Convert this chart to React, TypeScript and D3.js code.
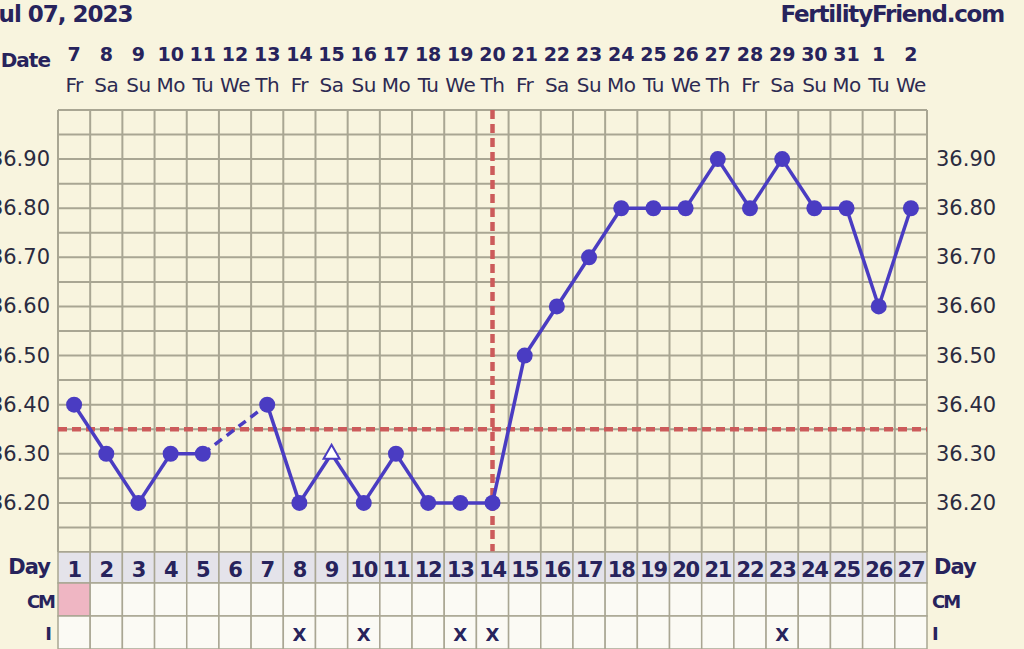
import React from 'react';
import * as d3 from 'd3';

const days = d3.range(1, 28);
const dates = ['7', '8', '9', '10', '11', '12', '13', '14', '15', '16', '17', '18', '19', '20', '21', '22', '23', '24', '25', '26', '27', '28', '29', '30', '31', '1', '2'];
const weekdays = ['Fr', 'Sa', 'Su', 'Mo', 'Tu', 'We', 'Th', 'Fr', 'Sa', 'Su', 'Mo', 'Tu', 'We', 'Th', 'Fr', 'Sa', 'Su', 'Mo', 'Tu', 'We', 'Th', 'Fr', 'Sa', 'Su', 'Mo', 'Tu', 'We'];
// null = no reading that day
const temps: (number | null)[] = [36.4, 36.3, 36.2, 36.3, 36.3, null, 36.4, 36.2, 36.3, 36.2, 36.3, 36.2, 36.2, 36.2, 36.5, 36.6, 36.7, 36.8, 36.8, 36.8, 36.9, 36.8, 36.9, 36.8, 36.8, 36.6, 36.8];
const openDays = [9];
const yTicks = [36.2, 36.3, 36.4, 36.5, 36.6, 36.7, 36.8, 36.9];
const coverline = 36.35;
const ovulationDay = 14;
const cmDays = [1];
const intercourseDays = [8, 10, 13, 14, 23];

const W = 1024;
const H = 649;
const BG = '#f8f4de';
const GRID = '#a9a693';
const LINE = '#4a3cc2';
const RED = '#cc5b5b';
const NAVY = '#27235c';
const FONT = '"DejaVu Sans", Verdana, sans-serif';

export default function App() {
  const x = d3.scaleBand<number>().domain(days).range([58, 927]);
  const y = d3.scaleLinear().domain([36.1, 37.0]).range([552, 110]);
  const cx = (d: number) => (x(d) || 0) + x.bandwidth() / 2;
  const hLines = d3.range(0, 19).map(i => 36.1 + i * 0.05);
  const vLines = d3.range(0, 28).map(i => 58 + i * x.bandwidth());

  const pts = days.map((d, i) => ({ d, v: temps[i] })).filter(p => p.v !== null) as { d: number; v: number }[];
  const segs = d3.pairs(pts).map(([a, b]) => ({ a, b, dashed: b.d - a.d > 1 }));

  const rowDay = [552, 583];
  const rowCM = [583, 616];
  const rowI = [616, 649];

  return (
    <svg width={W} height={H} style={{ position: 'absolute', left: 0, top: 0, background: BG, fontFamily: FONT }}>
      <rect width={W} height={H} fill={BG} />
      {/* header */}
      <text x={-9} y={22} fontSize={23} fontWeight="bold" fill={NAVY} letterSpacing={-1}>Jul 07, 2023</text>
      <text x={1004} y={22} fontSize={23} fontWeight="bold" fill={NAVY} textAnchor="end" letterSpacing={-1.2}>FertilityFriend.com</text>
      <text x={50} y={67} fontSize={20} fontWeight="bold" fill={NAVY} textAnchor="end" letterSpacing={-1}>Date</text>
      {days.map((d, i) => (
        <g key={d}>
          <text x={cx(d)} y={61} fontSize={19} fontWeight="bold" fill={NAVY} textAnchor="middle">{dates[i]}</text>
          <text x={cx(d)} y={92} fontSize={20} fill="#2d2a52" textAnchor="middle" letterSpacing={-0.5}>{weekdays[i]}</text>
        </g>
      ))}

      {/* grid */}
      {hLines.map((v, i) => (
        <line key={'h' + i} x1={58} x2={927} y1={y(v)} y2={y(v)} stroke={GRID} strokeWidth={2} />
      ))}
      {vLines.map((vx, i) => (
        <line key={'v' + i} x1={vx} x2={vx} y1={110} y2={552} stroke={GRID} strokeWidth={2} />
      ))}

      {/* axis labels */}
      {yTicks.map(t => (
        <g key={t}>
          <text x={50} y={y(t) + 7} fontSize={21} fill="#2b2b40" textAnchor="end">{t.toFixed(2)}</text>
          <text x={936} y={y(t) + 7} fontSize={21} fill="#2b2b40">{t.toFixed(2)}</text>
        </g>
      ))}

      {/* coverline and ovulation */}
      <line x1={58} x2={927} y1={y(coverline)} y2={y(coverline)} stroke={RED} strokeWidth={4.5} strokeDasharray="9,5" />
      <line x1={cx(ovulationDay)} x2={cx(ovulationDay)} y1={110} y2={552} stroke={RED} strokeWidth={4.5} strokeDasharray="9,5" />

      {/* temperature line */}
      {segs.map((s, i) => (
        <line key={'s' + i} x1={cx(s.a.d)} y1={y(s.a.v)} x2={cx(s.b.d)} y2={y(s.b.v)} stroke={LINE} strokeWidth={3.5}
          strokeDasharray={s.dashed ? '9,6' : undefined} />
      ))}
      {pts.map(p => openDays.includes(p.d) ? (
        <path key={'p' + p.d} d={`M${cx(p.d)},${y(p.v) - 9} L${cx(p.d) + 8},${y(p.v) + 5} L${cx(p.d) - 8},${y(p.v) + 5} Z`}
          fill="#ffffff" stroke={LINE} strokeWidth={2} />
      ) : (
        <circle key={'p' + p.d} cx={cx(p.d)} cy={y(p.v)} r={8} fill={LINE} />
      ))}

      {/* table */}
      {days.map(d => (
        <g key={'t' + d}>
          <rect x={x(d)} y={rowDay[0]} width={x.bandwidth()} height={rowDay[1] - rowDay[0]} fill="#e4e3ea" stroke={GRID} strokeWidth={1.5} />
          <rect x={x(d)} y={rowCM[0]} width={x.bandwidth()} height={rowCM[1] - rowCM[0]} fill={cmDays.includes(d) ? '#efb6c3' : '#fbfaf4'} stroke={GRID} strokeWidth={1.5} />
          <rect x={x(d)} y={rowI[0]} width={x.bandwidth()} height={rowI[1] - rowI[0]} fill="#fbfaf4" stroke={GRID} strokeWidth={1.5} />
          <text x={cx(d)} y={577} fontSize={21} fontWeight="bold" fill={NAVY} textAnchor="middle" letterSpacing={-1.2}>{d}</text>
          {intercourseDays.includes(d) && (
            <text x={cx(d)} y={641} fontSize={18} fontWeight="bold" fill={NAVY} textAnchor="middle">X</text>
          )}
        </g>
      ))}
      <text x={50} y={574} fontSize={21} fontWeight="bold" fill={NAVY} textAnchor="end" letterSpacing={-1}>Day</text>
      <text x={54} y={608} fontSize={18} fontWeight="bold" fill={NAVY} textAnchor="end" letterSpacing={-2}>CM</text>
      <text x={52} y={640} fontSize={18} fontWeight="bold" fill={NAVY} textAnchor="end">I</text>
      <text x={934} y={574} fontSize={21} fontWeight="bold" fill={NAVY} letterSpacing={-1}>Day</text>
      <text x={932} y={608} fontSize={18} fontWeight="bold" fill={NAVY} letterSpacing={-2}>CM</text>
      <text x={932} y={640} fontSize={18} fontWeight="bold" fill={NAVY}>I</text>
    </svg>
  );
}
